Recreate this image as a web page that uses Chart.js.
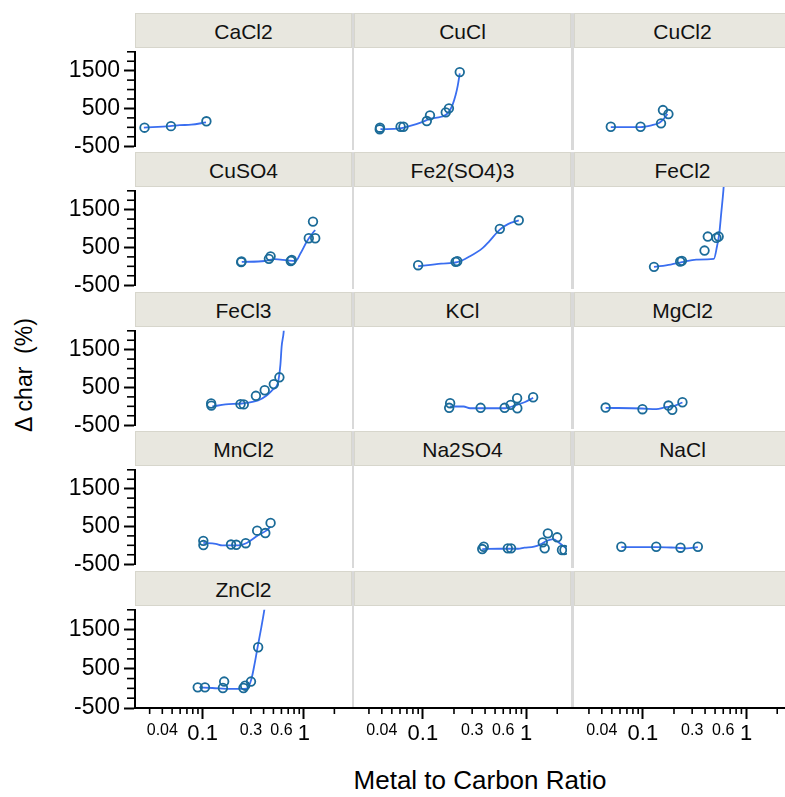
<!DOCTYPE html>
<html>
<head>
<meta charset="utf-8">
<script src="https://cdn.jsdelivr.net/npm/chart.js@4.4.1/dist/chart.umd.min.js"></script>
<style>
html,body{margin:0;padding:0;background:#fff;width:785px;height:797px;overflow:hidden;position:relative;font-family:"Liberation Sans",Arial,sans-serif;}
.hdr{position:absolute;box-sizing:border-box;height:35px;background:#e8e7df;border:1px solid #d7d6cc;font-size:21px;color:#111;text-align:center;line-height:35px;white-space:nowrap;}
.sep{position:absolute;background:#d9d9d9;width:2px;}
canvas{position:absolute;}
#ytitle{position:absolute;left:-76px;top:361px;width:200px;height:28px;line-height:28px;text-align:center;font-size:23px;color:#000;transform:rotate(-90deg);white-space:pre;}
#xtitle{position:absolute;left:230px;top:765px;width:500px;height:30px;line-height:30px;text-align:center;font-size:26px;color:#000;white-space:nowrap;}
</style>
</head>
<body>
<div id="ytitle">Δ char  (%)</div>
<div id="xtitle">Metal to Carbon Ratio</div>
<script>
// ---------------- data ----------------
const panelNames = ['CaCl2','CuCl','CuCl2','CuSO4','Fe2(SO4)3','FeCl2','FeCl3','KCl','MgCl2','MnCl2','Na2SO4','NaCl','ZnCl2','',''];

const CaCl2_ratio = [0.0267, 0.0487, 0.109];
const CaCl2_char  = [-10, 31, 160];
const CaCl2_fitRatio = [0.0263, 0.0476, 0.0595, 0.0772, 0.108];
const CaCl2_fitChar  = [-10, 31, 56, 70, 129];

const CuCl_ratio = [0.0355, 0.0357, 0.0576, 0.0615, 0.1057, 0.1138, 0.164, 0.1765, 0.2269];
const CuCl_char  = [7, 46, 70, 70, 210, 349, 423, 521, 1409];
const CuCl_fitRatio = [0.0361, 0.0563, 0.0704, 0.0946, 0.1138, 0.1477, 0.1714, 0.1916, 0.2062, 0.2171, 0.2269];
const CuCl_fitChar  = [10, 31, 88, 185, 266, 315, 398, 602, 846, 1091, 1380];

const CuCl2_ratio = [0.0459, 0.0915, 0.147, 0.1537, 0.1745];
const CuCl2_char  = [70, 70, 153, 479, 381];
const CuCl2_fitRatio = [0.0459, 0.0915, 0.1177, 0.1416, 0.1582, 0.1707];
const CuCl2_fitChar  = [63, 63, 105, 168, 276, 381];

const CuSO4_ratio = [0.2404, 0.242, 0.4516, 0.469, 0.742, 0.759, 1.118, 1.294, 1.23];
const CuSO4_char  = [110, 130, 198, 264, 141, 166, 744, 744, 1184];
const CuSO4_fitRatio = [0.2436, 0.4104, 0.5128, 0.6895, 0.8294, 0.927, 1.076, 1.25, 1.294];
const CuSO4_fitChar  = [117, 141, 190, 156, 141, 345, 670, 915, 957];

const Fe2SO43_ratio = [0.0865, 0.2062, 0.2141, 0.5743, 0.891];
const Fe2SO43_char  = [83, 166, 181, 974, 1184];
const Fe2SO43_fitRatio = [0.0865, 0.1477, 0.2141, 0.288, 0.3873, 0.4496, 0.5743, 0.7019, 0.891];
const Fe2SO43_fitChar  = [58, 124, 156, 303, 509, 670, 957, 1096, 1184];

const FeCl2_ratio = [0.1249, 0.2294, 0.2384, 0.403, 0.4346, 0.531, 0.559];
const FeCl2_char  = [43, 173, 190, 442, 785, 753, 785];
const FeCl2_fitRatio = [0.1249, 0.1837, 0.2384, 0.3328, 0.5003, 0.5383, 0.568, 0.5939, 0.625, 0.63];
const FeCl2_fitChar  = [43, 100, 156, 222, 239, 548, 876, 1365, 1936, 2060];

const FeCl3_ratio = [0.1214, 0.122, 0.2367, 0.2548, 0.3359, 0.4104, 0.5048, 0.5729];
const FeCl3_char  = [75, 19, 58, 51, 278, 425, 589, 768];
const FeCl3_fitRatio = [0.1249, 0.1684, 0.2436, 0.3535, 0.4253, 0.4937, 0.5518, 0.586, 0.6032, 0.6306, 0.635];
const FeCl3_fitChar  = [-5, 51, 75, 156, 278, 442, 607, 1096, 1586, 1953, 2060];

const KCl_ratio = [0.1816, 0.1776, 0.368, 0.642, 0.7386, 0.858, 0.862, 1.244];
const KCl_char  = [132, 19, 19, 19, 92, 254, 9, 278];
const KCl_fitRatio = [0.1816, 0.248, 0.288, 0.6518, 0.815, 1.018, 1.244];
const KCl_fitChar  = [51, 51, 9, 9, 75, 156, 264];

const MgCl2_ratio = [0.0407, 0.0956, 0.1745, 0.1908, 0.2415];
const MgCl2_char  = [26, -15, 75, -30, 156];
const MgCl2_fitRatio = [0.0407, 0.0942, 0.1315, 0.1644, 0.1908, 0.2415];
const MgCl2_fitChar  = [19, 2, -15, 34, 51, 149];

const MnCl2_ratio = [0.1016, 0.1018, 0.1908, 0.2151, 0.2664, 0.3457, 0.4159, 0.469];
const MnCl2_char  = [119, 7, 21, 14, 56, 389, 325, 594];
const MnCl2_fitRatio = [0.1016, 0.1348, 0.1561, 0.2264, 0.2724, 0.3535, 0.4253, 0.469];
const MnCl2_fitChar  = [63, 39, -3, -3, 63, 266, 389, 496];

const Na2SO4_ratio = [0.3822, 0.396, 0.6912, 0.745, 1.554, 1.749, 1.625, 2.171, 2.426, 2.57];
const Na2SO4_char  = [-35, 21, -18, -18, 129, 349, -18, 252, -59, -59];
const Na2SO4_fitRatio = [0.3822, 0.5618, 0.877, 1.018, 1.272, 1.474, 1.71, 1.986, 2.3, 2.67];
const Na2SO4_fitChar  = [-35, -28, -28, -3, 21, 80, 168, 210, 105, -18];

const NaCl_ratio = [0.0586, 0.1315, 0.2309, 0.345];
const NaCl_char  = [21, 21, -3, 21];
const NaCl_fitRatio = [0.0586, 0.1315, 0.2053, 0.2664, 0.345];
const NaCl_fitChar  = [14, 14, -3, -18, 14];

const ZnCl2_ratio = [0.0895, 0.1055, 0.1632, 0.1586, 0.2531, 0.2629, 0.3004, 0.3535];
const ZnCl2_char  = [26, 26, 173, 9, 9, 68, 173, 1047];
const ZnCl2_fitRatio = [0.0929, 0.1249, 0.1951, 0.2724, 0.3044, 0.3282, 0.348, 0.3804, 0.4042, 0.41];
const ZnCl2_fitChar  = [26, 9, -15, -6, 254, 663, 1030, 1561, 1953, 2060];

// ticks
const xTickValues = [0.03,0.04,0.05,0.06,0.07,0.08,0.09,0.1,0.2,0.3,0.4,0.5,0.6,0.7,0.8,0.9,1,2];
const xTickLabels = ['0.04','0.1','0.3','0.6','1'];
const xBigLabels  = ['0.1','1'];
const yTickValues = [-500,-250,0,250,500,750,1000,1250,1500,1750,2000];
const yTickLabels = ['-500','500','1500'];
const xRange = [0.0215, 2.72];
const yRange = [-500, 2000];

// ---------------- assembly ----------------
const seriesTable = {
  'CaCl2':[CaCl2_ratio,CaCl2_char,CaCl2_fitRatio,CaCl2_fitChar],
  'CuCl':[CuCl_ratio,CuCl_char,CuCl_fitRatio,CuCl_fitChar],
  'CuCl2':[CuCl2_ratio,CuCl2_char,CuCl2_fitRatio,CuCl2_fitChar],
  'CuSO4':[CuSO4_ratio,CuSO4_char,CuSO4_fitRatio,CuSO4_fitChar],
  'Fe2(SO4)3':[Fe2SO43_ratio,Fe2SO43_char,Fe2SO43_fitRatio,Fe2SO43_fitChar],
  'FeCl2':[FeCl2_ratio,FeCl2_char,FeCl2_fitRatio,FeCl2_fitChar],
  'FeCl3':[FeCl3_ratio,FeCl3_char,FeCl3_fitRatio,FeCl3_fitChar],
  'KCl':[KCl_ratio,KCl_char,KCl_fitRatio,KCl_fitChar],
  'MgCl2':[MgCl2_ratio,MgCl2_char,MgCl2_fitRatio,MgCl2_fitChar],
  'MnCl2':[MnCl2_ratio,MnCl2_char,MnCl2_fitRatio,MnCl2_fitChar],
  'Na2SO4':[Na2SO4_ratio,Na2SO4_char,Na2SO4_fitRatio,Na2SO4_fitChar],
  'NaCl':[NaCl_ratio,NaCl_char,NaCl_fitRatio,NaCl_fitChar],
  'ZnCl2':[ZnCl2_ratio,ZnCl2_char,ZnCl2_fitRatio,ZnCl2_fitChar]
};

Chart.defaults.font.family = '"Liberation Sans", Arial, sans-serif';
Chart.defaults.color = '#000';

const fmt = v => String(+Number(v).toPrecision(4));
const xMinor = xTickValues.filter(v => !xBigLabels.includes(fmt(v)));
const yMinor = yTickValues.filter(v => !yTickLabels.includes(fmt(v)));

const colLeft = [135, 354, 574];
const plotW = 217;
const plotTop = [48, 187, 327, 466, 606];
const plotH = 102;
const hdrH = 35;
const yAxisW = 135, xAxisH = 60;

const minorTicks = {
  id: 'minorTicks',
  afterDraw(chart) {
    const ctx = chart.ctx, xs = chart.scales.x, ys = chart.scales.y, a = chart.chartArea;
    ctx.save();
    ctx.strokeStyle = '#000';
    if (ys.options.display) {
      ctx.lineWidth = 1.6;
      yMinor.forEach(v => {
        const p = ys.getPixelForValue(v);
        ctx.beginPath(); ctx.moveTo(a.left - 8, p); ctx.lineTo(a.left, p); ctx.stroke();
      });
    }
    if (xs.options.display) {
      ctx.lineWidth = 1.6;
      xMinor.forEach(v => {
        const p = xs.getPixelForValue(v);
        ctx.beginPath(); ctx.moveTo(p, a.bottom); ctx.lineTo(p, a.bottom + 6); ctx.stroke();
      });
      ctx.lineWidth = 2;
      ctx.beginPath();
      ctx.moveTo(ys.options.display ? a.left - 1 : 0, a.bottom);
      ctx.lineTo(chart.width, a.bottom);
      ctx.stroke();
    }
    ctx.restore();
  }
};

panelNames.forEach((name, i) => {
  const r = Math.floor(i / 3), c = i % 3;
  const L = colLeft[c], T = plotTop[r];
  // header
  const h = document.createElement('div');
  h.className = 'hdr';
  h.style.left = L + 'px'; h.style.top = (T - hdrH) + 'px'; h.style.width = plotW + 'px';
  h.textContent = name;
  document.body.appendChild(h);
  // separator right of panel
  if (c < 2) {
    const s = document.createElement('div');
    s.className = 'sep';
    s.style.left = (L + plotW) + 'px'; s.style.top = (T - hdrH) + 'px';
    s.style.height = (hdrH + plotH) + 'px';
    s.style.width = (colLeft[c + 1] - L - plotW) + 'px';
    document.body.appendChild(s);
  }
  const showY = c === 0, showX = r === 4;
  const padL = showY ? 0 : 2, padR = 2, padT = 14, padB = showX ? 0 : 14;
  const cw = (showY ? yAxisW : padL) + plotW + padR;
  const ch = padT + plotH + (showX ? xAxisH : 0) + padB;
  const cv = document.createElement('canvas');
  cv.width = cw; cv.height = ch;
  cv.style.width = cw + 'px'; cv.style.height = ch + 'px';
  cv.style.left = (showY ? L - yAxisW : L - padL) + 'px';
  cv.style.top = (T - padT) + 'px';
  document.body.appendChild(cv);

  const s = seriesTable[name];
  const pts = s ? s[0].map((x, k) => ({x, y: s[1][k]})) : [];
  const fit = s ? s[2].map((x, k) => ({x, y: s[3][k]})) : [];

  new Chart(cv, {
    type: 'scatter',
    data: {
      datasets: [
        {label: name + ' fit', data: fit, showLine: true, borderColor: '#3a6ef0', backgroundColor: '#3a6ef0',
         borderWidth: 1.8, pointRadius: 0, cubicInterpolationMode: 'monotone', order: 2},
        {label: name, data: pts, showLine: false, pointStyle: 'circle', pointRadius: 4.3,
         borderColor: '#1b6b98', backgroundColor: 'rgba(0,0,0,0)', pointBorderWidth: 1.8, borderWidth: 1.8, order: 1}
      ]
    },
    options: {
      responsive: false, animation: false, devicePixelRatio: 1, events: [],
      layout: {padding: {left: padL, right: padR, top: padT, bottom: padB}},
      plugins: {legend: {display: false}, tooltip: {enabled: false}},
      scales: {
        x: {
          type: 'logarithmic', min: xRange[0], max: xRange[1], display: showX,
          afterBuildTicks: sc => { sc.ticks = xTickValues.map(v => ({value: v})); },
          afterFit: sc => { sc.height = showX ? xAxisH : 0; },
          ticks: {
            autoSkip: false, maxRotation: 0, minRotation: 0, padding: 2, color: '#000',
            callback: v => xTickLabels.includes(fmt(v)) ? fmt(v) : '',
            font: ctx => ({size: (ctx.tick && xBigLabels.includes(fmt(ctx.tick.value))) ? 22 : 16})
          },
          grid: {display: true, drawOnChartArea: false, drawTicks: true, tickLength: 11, tickWidth: 2,
                 tickColor: ctx => (ctx.tick && xBigLabels.includes(fmt(ctx.tick.value))) ? '#000' : 'rgba(0,0,0,0)'},
          border: {display: true, color: '#000', width: 2}
        },
        y: {
          type: 'linear', min: yRange[0], max: yRange[1], display: showY,
          afterBuildTicks: sc => { sc.ticks = yTickValues.map(v => ({value: v})); },
          afterFit: sc => { sc.width = showY ? yAxisW : 0; },
          ticks: {
            autoSkip: false, padding: 4, color: '#000', font: {size: 23},
            callback: v => yTickLabels.includes(fmt(v)) ? fmt(v) : ''
          },
          grid: {display: true, drawOnChartArea: false, drawTicks: true, tickLength: 11, tickWidth: 2,
                 tickColor: ctx => (ctx.tick && yTickLabels.includes(fmt(ctx.tick.value))) ? '#000' : 'rgba(0,0,0,0)'},
          border: {display: true, color: '#000', width: 2}
        }
      }
    },
    plugins: [minorTicks]
  });
});
</script>
</body>
</html>
